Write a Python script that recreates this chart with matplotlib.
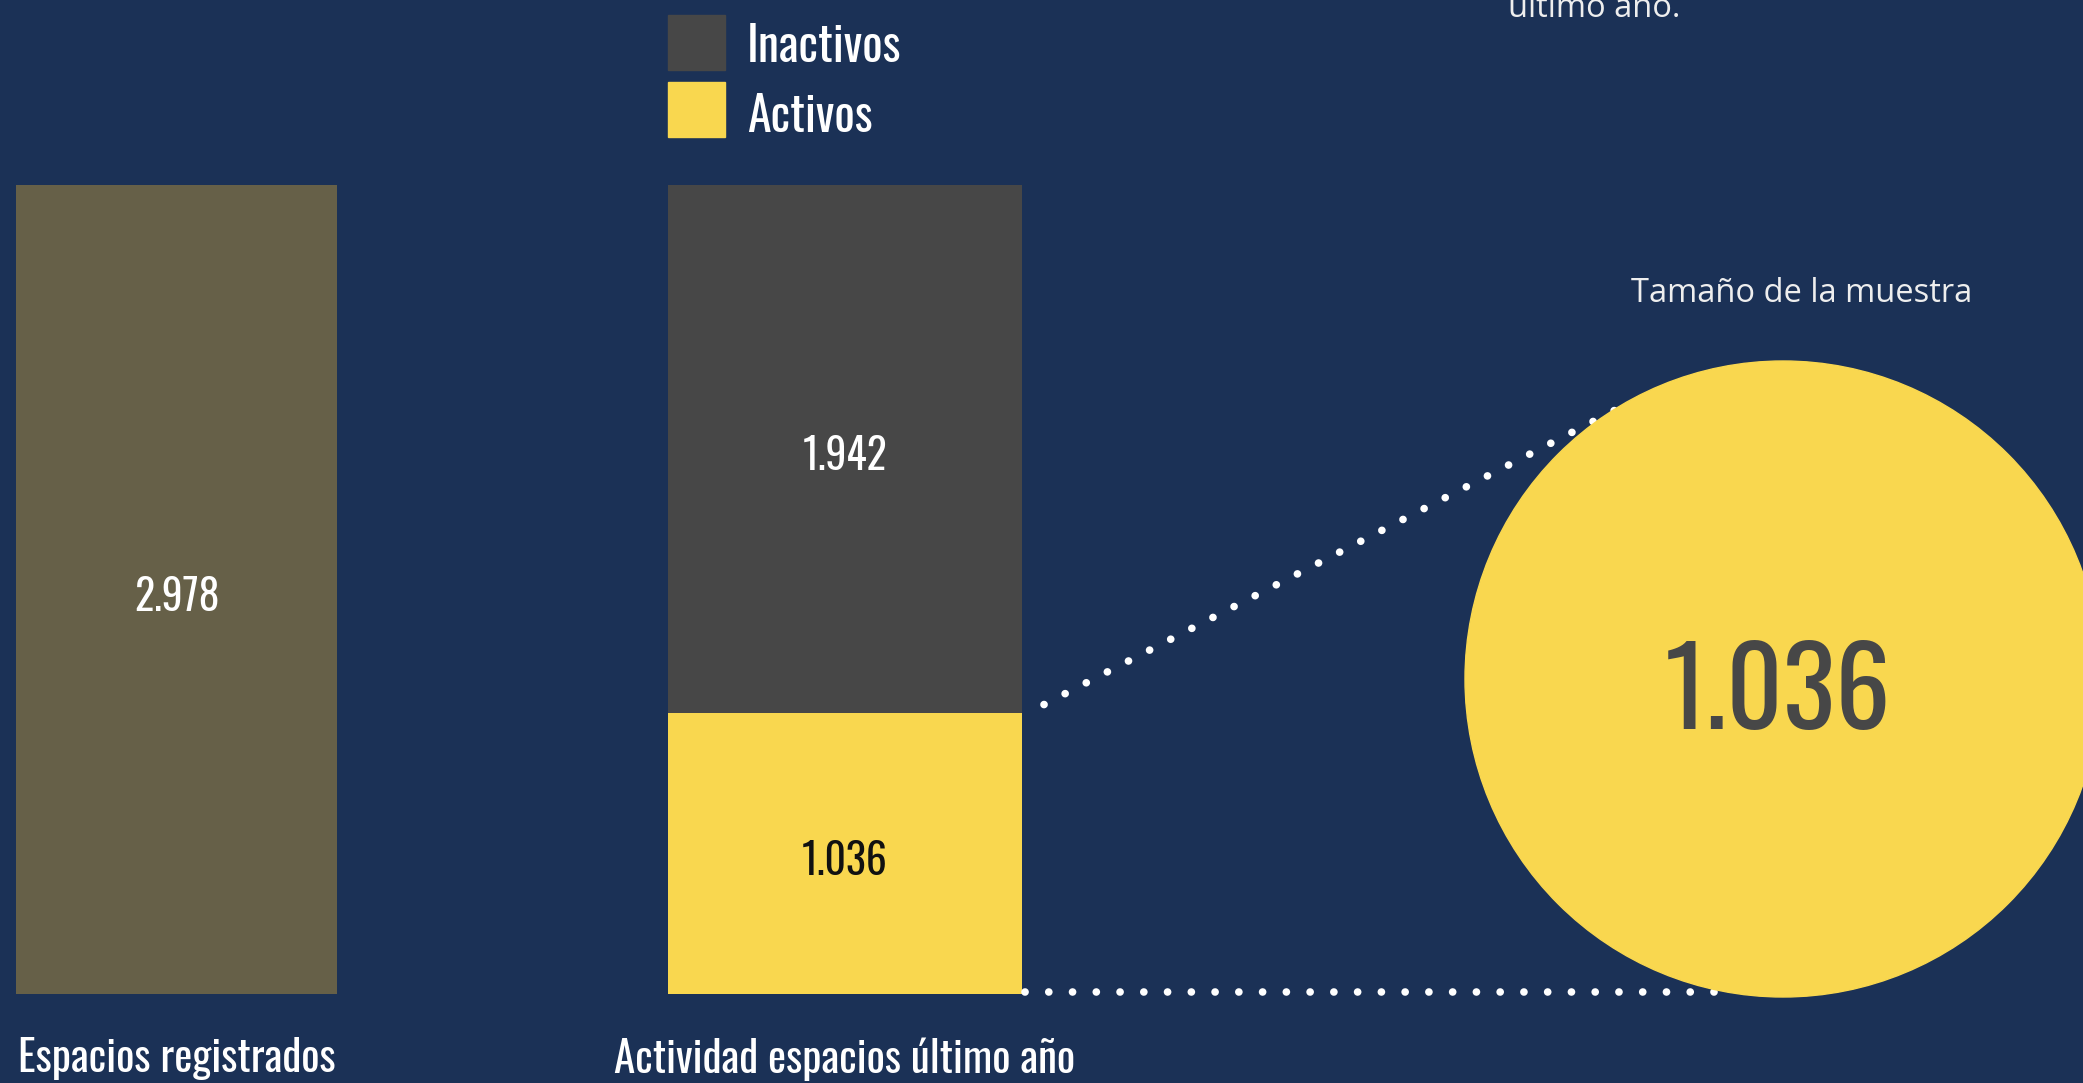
import matplotlib
matplotlib.use('Agg')
import matplotlib.pyplot as plt
from matplotlib.patches import Circle, Rectangle
from matplotlib import font_manager
from matplotlib.transforms import offset_copy

# data
totales = [2978]
activos = [1036]
inactivos = [1942]
categorias = ['Espacios registrados', 'Actividad espacios último año']
leyenda = ['Inactivos', 'Activos']
muestra = 1036

BG = '#1b3156'
OLIVE = '#666048'
GREY = '#474747'
YELLOW = '#f9d74f'

# the reference uses a tall condensed face; take the narrowest one we have
names = {f.name for f in font_manager.fontManager.ttflist}
cands = ['Oswald', 'Roboto Condensed', 'Open Sans Condensed', 'Liberation Sans Narrow',
         'DejaVu Sans Condensed']
found = [n for n in cands if n in names]
if found:
    NARROW, k = [found[0], 'DejaVu Sans'], 1.0
else:
    NARROW, k = ['Roboto', 'DejaVu Sans'], 0.8

W, H = 2083, 1083
fig = plt.figure(figsize=(W/100, H/100), dpi=100, facecolor=BG)

# bar axes, scaled so bars land where the reference puts them
ax = fig.add_axes([0, 0, 1, 1])
ax.set_facecolor('none')
ax.axis('off')
c0, c1 = 176.5, 845.0          # pixel centres of the two bars
ppu = c1 - c0
ax.set_xlim(-c0/ppu, (W - c0)/ppu)
base_px, top_px = 994, 185     # pixel rows of 0 and of the total
upp = totales[0] / (base_px - top_px)
ax.set_ylim(-(H - base_px)*upp, base_px*upp)

w0, w1 = 321/ppu, 354/ppu
ax.bar(0, totales[0], width=w0, color=OLIVE)
ax.bar(1, activos[0], width=w1, color=YELLOW)
ax.bar(1, inactivos[0], bottom=activos[0], width=w1, color=GREY)

tr = offset_copy(ax.transData, fig=fig, x=0, y=-8, units='dots')
lab = dict(ha='center', va='center', fontsize=30*k, family=NARROW, transform=tr)
ax.text(0, totales[0]/2, f'{totales[0]/1000:.3f}', color='white', **lab)
ax.text(1, activos[0] + inactivos[0]/2, f'{inactivos[0]/1000:.3f}', color='white', **lab)
ax.text(1, activos[0]/2, f'{activos[0]/1000:.3f}', color='#111111', **lab)

# overlay in pixel coordinates
ov = fig.add_axes([0, 0, 1, 1])
ov.set_facecolor('none')
ov.axis('off')
ov.set_xlim(0, W)
ov.set_ylim(H, 0)

for i, cat in enumerate(categorias):
    x = c0 + i*ppu
    ov.text(x, 1059, cat, ha='center', va='center', color='white',
            fontsize=31*k, family=NARROW)

# legend
for i, (name, col) in enumerate(zip(leyenda, [GREY, YELLOW])):
    y0 = 15 + i*67
    ov.add_patch(Rectangle((668, y0), 57, 55, color=col))
    ov.text(747, y0 + 32 + 3*i, name, ha='left', va='center', color='white',
            fontsize=34.5*k, family=NARROW)

# dotted connectors
to_px = lambda x, y: ov.transData.inverted().transform(ax.transData.transform((x, y)))
x_edge = 1 + w1/2
sx, sy = to_px(x_edge, activos[0])
bx, by = to_px(x_edge, 0)
dots = dict(color='white', lw=5.5, linestyle=(0, (0.01, 3.1)),
            dash_capstyle='round', zorder=2)
ov.plot([sx + 22, 1625], [sy - 8, 405], **dots)
ov.plot([bx + 3, 1730], [by - 2, by - 2], **dots)

# circle
ov.add_patch(Circle((1783, 679), 318, color=YELLOW, zorder=3))
ov.text(1778, 696, f'{muestra/1000:.3f}', ha='center', va='center',
        color=GREY, fontsize=79*k, family=NARROW, zorder=4)

ov.text(1802, 294, 'Tamaño de la muestra', ha='center', va='center',
        color='#eeeeee', fontsize=23.5, family=['Open Sans', 'DejaVu Sans'])
ov.text(1508, 17, 'último año.', ha='left', va='baseline',
        color='#eeeeee', fontsize=23.5, family=['Open Sans', 'DejaVu Sans'])

fig.savefig('out.png', dpi=100, facecolor=BG)
